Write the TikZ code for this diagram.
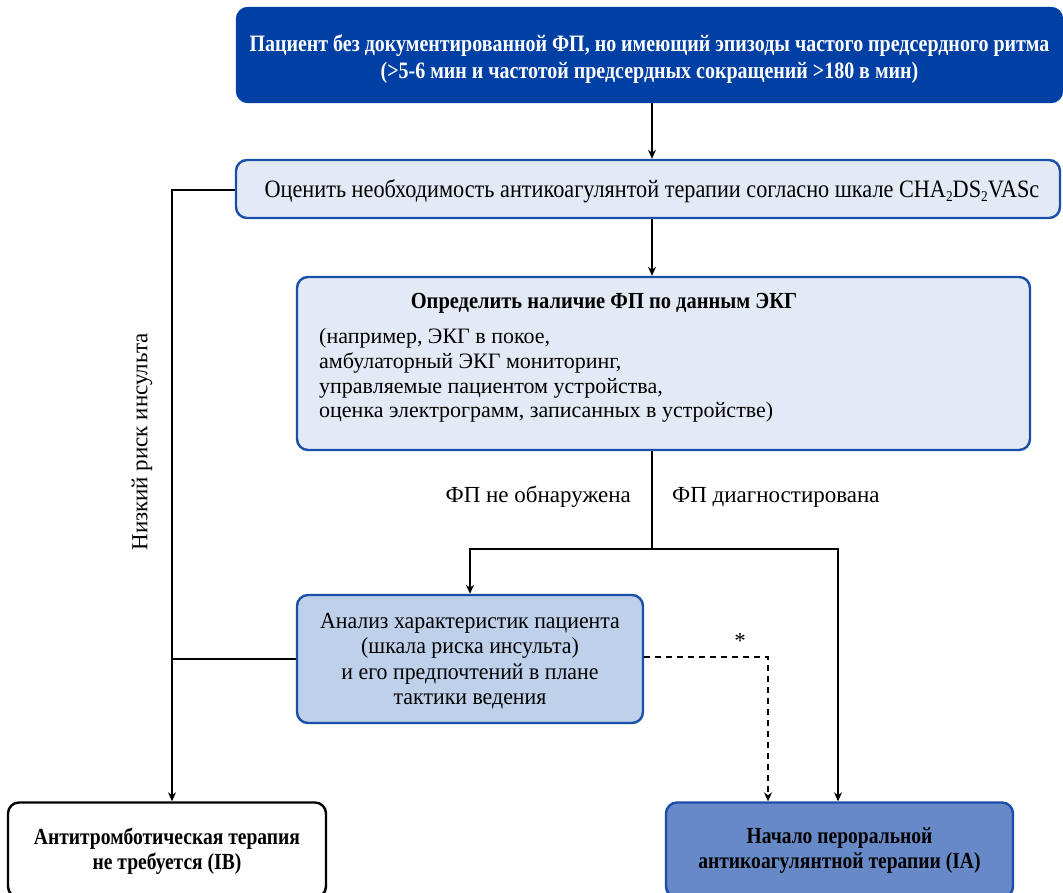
\documentclass[tikz,border=0pt]{standalone}
\usepackage{fontspec}
\setmainfont{Liberation Serif}
\newfontfamily\condfont[FakeStretch=0.85]{Liberation Serif}
\newfontfamily\semicondfont[FakeStretch=0.89]{Liberation Serif}
\newfontfamily\slimfont[FakeStretch=0.95]{Liberation Serif}
\usetikzlibrary{arrows.meta}
\definecolor{headblue}{HTML}{003FA3}
\definecolor{edgeblue}{HTML}{1A4FA8}
\definecolor{palefill}{HTML}{E4EAF5}
\definecolor{midfill}{HTML}{BFD0EA}
\definecolor{deepfill}{HTML}{6889C8}
\newcommand{\lowtwo}{\raisebox{-0.35ex}{\fontsize{15}{15}\selectfont 2}}
\tikzset{
  box/.style={rounded corners=11pt, line width=2.4pt, draw=edgeblue, inner sep=0pt},
  conn/.style={line width=1.1pt, -{Stealth[length=9pt,width=8pt]}},
  plain/.style={line width=1.1pt},
  dashline/.style={line width=1.1pt, dash pattern=on 6pt off 5pt},
  lbl/.style={inner sep=0pt, font=\fontsize{23}{26}\selectfont},
}
\begin{document}
\begin{tikzpicture}[x=1pt,y=-1pt]
\useasboundingbox (0,0) rectangle (1063,893);
\begin{scope}
\clip (0,0) rectangle (1063,893);
% boxes
\node[box, fill=headblue, draw=headblue, minimum width=825pt, minimum height=94pt] (top) at (649.5,55) {};
\node[inner sep=0pt, text=white, align=center,
      font=\condfont\bfseries\fontsize{23.5}{27}\selectfont] (toptext) at (649.5,59)
  {Пациент без документированной ФП, но имеющий эпизоды частого предсердного ритма\\
   (>5-6 мин и частотой предсердных сокращений >180 в мин)};
\node[box, fill=palefill, minimum width=824pt, minimum height=58pt] (assess) at (648,189) {};
\node[inner sep=0pt, font=\semicondfont\fontsize{25}{28}\selectfont] (assesstext) at (652,191)
  {Оценить необходимость антикоагулянтой терапии согласно шкале CHA\lowtwo DS\lowtwo VASc};
\node[box, fill=palefill, minimum width=733pt, minimum height=173pt] (ecg) at (663.5,363.5) {};
\node[inner sep=0pt, font=\semicondfont\bfseries\fontsize{23}{26}\selectfont] (ecgtitle) at (604,303)
  {Определить наличие ФП по данным ЭКГ};
\node[inner sep=0pt, anchor=north west, align=left, font=\fontsize{22}{24.8}\selectfont] (ecgbody) at (319,328)
  {(например, ЭКГ в покое,\\
   амбулаторный ЭКГ мониторинг,\\
   управляемые пациентом устройства,\\
   оценка электрограмм, записанных в устройстве)};
\node[box, fill=midfill, minimum width=346pt, minimum height=128pt] (profile) at (470,659) {};
\node[inner sep=0pt, align=center, font=\slimfont\fontsize{23}{25.5}\selectfont] (profiletext) at (470,661)
  {Анализ характеристик пациента\\(шкала риска инсульта)\\и его предпочтений в плане\\тактики ведения};
\node[box, draw=black, fill=white, minimum width=318pt, minimum height=95pt] (noat) at (167,850) {};
\node[inner sep=0pt, align=center, font=\condfont\bfseries\fontsize{23}{25}\selectfont] (noattext) at (167,851)
  {Антитромботическая терапия\\не требуется (IB)};
\node[box, fill=deepfill, minimum width=347pt, minimum height=95pt] (oac) at (839.5,850) {};
\node[inner sep=0pt, align=center, font=\condfont\bfseries\fontsize{23}{25}\selectfont] (oactext) at (839.5,851)
  {Начало пероральной\\антикоагулянтной терапии (IA)};
\end{scope}
% helper points
\coordinate (split) at (652,549);
\coordinate (lowrisk) at (172,190);
\coordinate (dashcorner) at (768,657);
% connectors
\draw[conn] (top.south -| 652,0) -- (assess.north -| 652,0);
\draw[conn] (assess.south -| 652,0) -- (ecg.north -| 652,0);
\draw[conn] (assess.west |- lowrisk) -- (lowrisk) -- (noat.north -| lowrisk);
\draw[plain] (profile.west) -- (profile.west -| lowrisk);
\draw[plain] (ecg.south -| split) -- (split);
\draw[conn] (split) -| (profile.north);
\draw[conn] (split) -| (oac.north -| 838,0);
\draw[dashline, -{Stealth[length=9pt,width=8pt]}] (profile.east |- dashcorner) -- (dashcorner) -- (oac.north -| dashcorner);
% labels
\node[lbl, anchor=east] (nofp) at (631,497) {ФП не обнаружена};
\node[lbl, anchor=west] (yesfp) at (672,497) {ФП диагностирована};
\node[lbl, rotate=90] (lowlbl) at (142,442) {Низкий риск инсульта};
\node[lbl] (star) at (740,641) {*};
\end{tikzpicture}
\end{document}
